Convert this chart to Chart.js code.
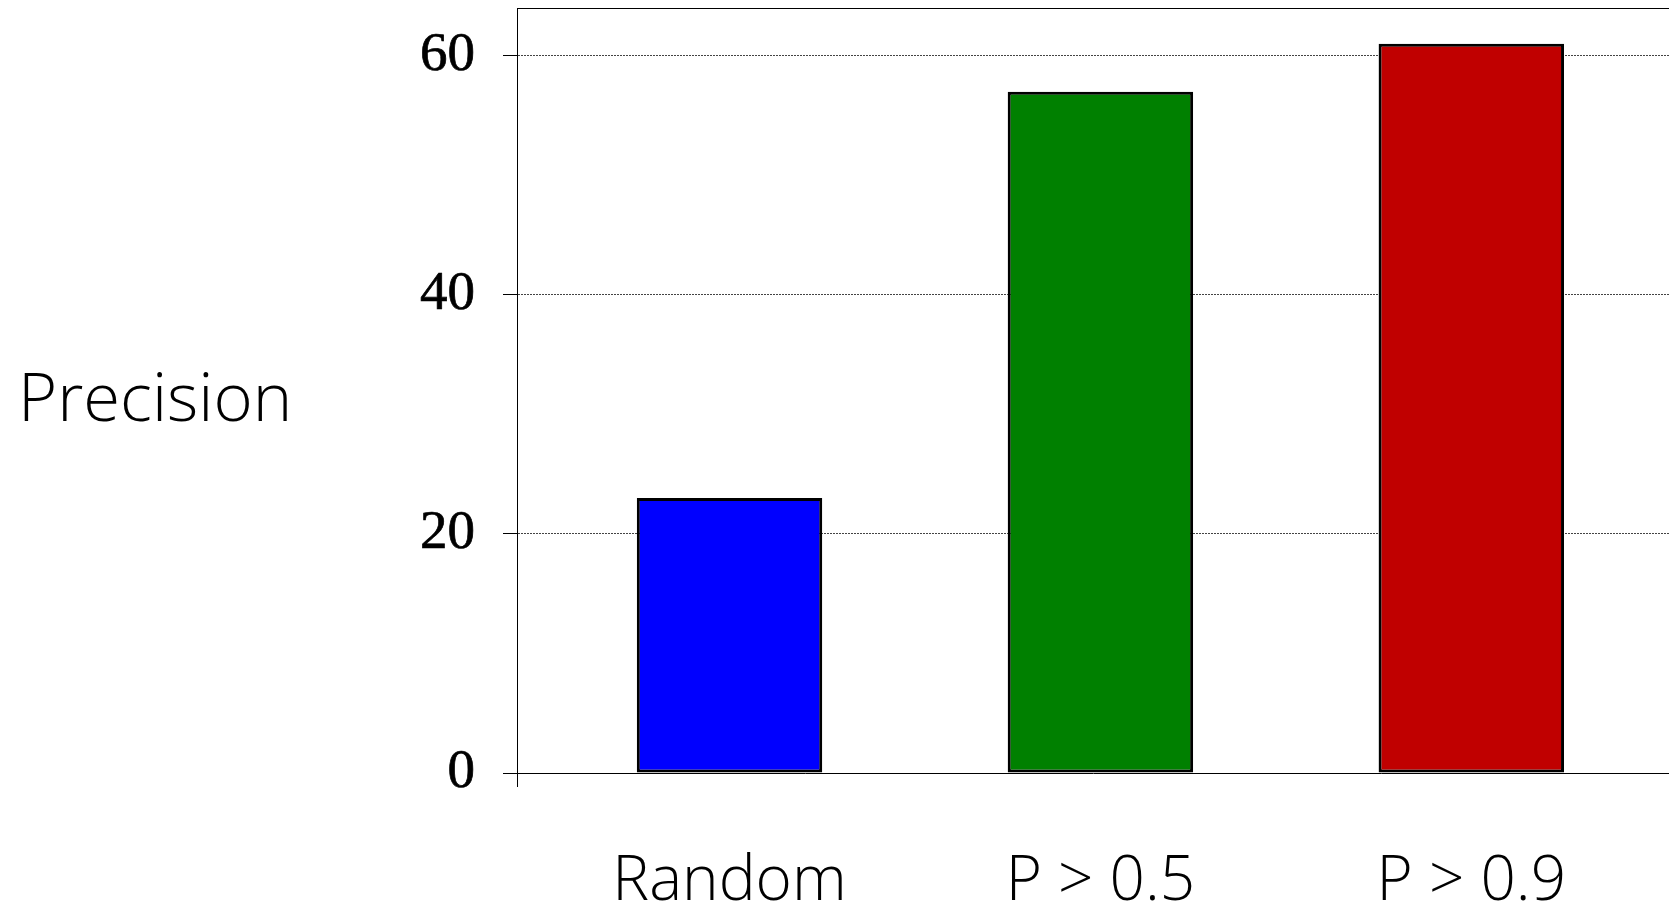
<!DOCTYPE html>
<html>
<head>
<meta charset="utf-8">
<script src="https://cdn.jsdelivr.net/npm/chart.js@4.4.1/dist/chart.umd.min.js"></script>
<style>
  html, body { margin: 0; padding: 0; background: #fff; }
  #wrap { width: 1669px; height: 909px; }
</style>
</head>
<body>
<div id="wrap"><canvas id="precisionChart" width="1669" height="909"></canvas></div>
<script>
// categorias e valores de precisão
const categories = ['Random', 'P > 0.5', 'P > 0.9'];
const precisionValues = [23, 57, 61];
const barColors = ['#0000ff', '#008000', '#c00000'];
const yTicks = [0, 20, 40, 60];
const yAxisTitle = 'Precision';

const ctx = document.getElementById('precisionChart').getContext('2d');

// desenha a moldura superior, o prolongamento do eixo e o título do eixo y (horizontal)
const frameAndTitle = {
    id: 'frameAndTitle',
    afterDraw(chart) {
        const { ctx, chartArea } = chart;
        ctx.save();
        ctx.strokeStyle = '#000';
        ctx.lineWidth = 1;
        ctx.beginPath();
        ctx.moveTo(chartArea.left, chartArea.top + 0.5);
        ctx.lineTo(chartArea.right, chartArea.top + 0.5);
        ctx.moveTo(chartArea.left + 0.5, chartArea.bottom);
        ctx.lineTo(chartArea.left + 0.5, chartArea.bottom + 14);
        ctx.stroke();

        ctx.fillStyle = '#000';
        ctx.font = '300 67px "Open Sans", "Noto Sans", sans-serif';
        ctx.textAlign = 'left';
        ctx.textBaseline = 'alphabetic';
        ctx.fillText(yAxisTitle, 18, 421);
        ctx.restore();
    }
};

// remove o espaço extra que o Chart.js reserva para os rótulos
function noLabelPadding(scale) {
    scale.paddingTop = 0;
    scale.paddingBottom = 0;
    scale.paddingLeft = 0;
    scale.paddingRight = 0;
}

new Chart(ctx, {
    type: 'bar',
    data: {
        datasets: [{
            data: precisionValues.map((v, i) => ({ x: i, y: v })),
            backgroundColor: barColors,
            borderColor: '#000',
            borderWidth: 3,
            borderSkipped: false,
            categoryPercentage: 1,
            barPercentage: 0.5
        }]
    },
    options: {
        responsive: false,
        animation: false,
        layout: { padding: { top: 8, right: 0, left: 0, bottom: 0 } },
        plugins: {
            legend: { display: false },
            tooltip: { enabled: false }
        },
        scales: {
            x: {
                type: 'linear',
                offset: false,
                min: -0.573,
                max: 2.533,
                afterBuildTicks: scale => {
                    scale.ticks = categories.map((_, i) => ({ value: i }));
                },
                afterFit: scale => {
                    scale.height = 136;
                    noLabelPadding(scale);
                },
                grid: { display: false, drawTicks: false },
                border: { display: true, color: '#000', width: 1 },
                ticks: {
                    padding: 72,
                    color: '#000',
                    maxRotation: 0,
                    autoSkip: false,
                    font: { family: '"Open Sans", "Noto Sans", sans-serif', size: 62, weight: 300 },
                    callback: v => categories[v]
                }
            },
            y: {
                min: 0,
                max: 64,
                afterBuildTicks: scale => {
                    scale.ticks = yTicks.map(v => ({ value: v }));
                },
                afterFit: scale => {
                    scale.width = 517;
                    noLabelPadding(scale);
                },
                grid: {
                    color: '#444',
                    lineWidth: 1,
                    drawTicks: true,
                    tickLength: 14,
                    tickColor: '#000'
                },
                border: { display: true, color: '#000', width: 1, dash: [2, 1] },
                ticks: {
                    padding: 28,
                    color: '#000',
                    textStrokeColor: '#000',
                    textStrokeWidth: 0.7,
                    font: { family: '"Liberation Serif", "DejaVu Serif", serif', size: 55 }
                }
            }
        }
    },
    plugins: [frameAndTitle]
});
</script>
</body>
</html>
